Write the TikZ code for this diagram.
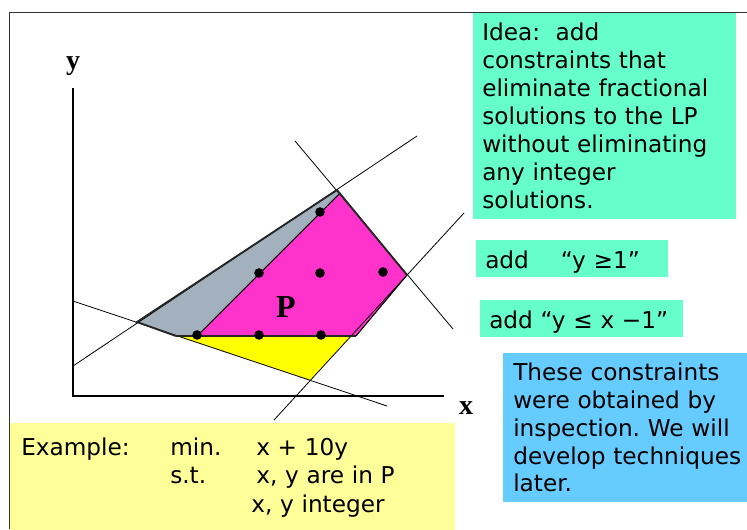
\documentclass[tikz,border=0pt]{standalone}
\usepackage{fontspec}
\setmainfont{DejaVu Sans}
\newfontfamily\axisfont{Liberation Serif}
\usetikzlibrary{calc,positioning}
\frenchspacing
\hyphenpenalty=10000
\exhyphenpenalty=10000

\definecolor{polyMagenta}{RGB}{255,51,204}
\definecolor{cutGray}{RGB}{163,177,191}
\definecolor{cutYellow}{RGB}{255,255,0}
\definecolor{ideaGreen}{RGB}{102,255,204}
\definecolor{noteBlue}{RGB}{102,204,255}
\definecolor{exampleYellow}{RGB}{255,255,153}

\begin{document}
\begin{tikzpicture}[
    x=0.75pt, y=-0.75pt,
    font=\fontsize{17.4pt}{21pt}\selectfont,
    note/.style={rectangle, anchor=north west, align=left, inner xsep=6.75pt, inner ysep=7.5pt},
    idea/.style={note, fill=ideaGreen, text width=183.75pt, minimum height=154.5pt},
    addbox/.style={note, fill=ideaGreen, inner ysep=3pt, text height=18.2pt, text depth=3.3pt},
    remark/.style={note, fill=noteBlue, inner xsep=7.5pt, text width=180pt,
        font=\fontsize{17.4pt}{20.8pt}\selectfont},
    example/.style={note, fill=exampleYellow, inner xsep=8.25pt, inner ysep=9pt, text width=317.25pt,
        font=\fontsize{17.4pt}{21.4pt}\selectfont},
    constraint/.style={line width=0.6pt},
    rim/.style={line width=1.4pt, black!85},
    axisline/.style={line width=1pt},
    latticept/.style={circle, fill=black, inner sep=0pt, minimum size=7.2pt},
    axislabel/.style={font=\axisfont\bfseries\fontsize{21pt}{21pt}\selectfont},
]
    \useasboundingbox (0,0) rectangle (747,529);

    % --- CORNERS OF THE REGIONS ---
    \coordinate (apex) at (337,190);
    \coordinate (leftcut) at (137,322);
    \coordinate (graybase) at (176,336);
    \coordinate (basecut) at (197,336);
    \coordinate (magtop) at (339,194);
    \coordinate (magright) at (407,275);
    \coordinate (magbase) at (356,336);
    \coordinate (yelright) at (351,336);
    \coordinate (yelbottom) at (310,380);

    % --- REGIONS ---
    \fill[cutGray] (apex) -- (leftcut) -- (graybase) -- (basecut) -- (magtop) -- cycle;
    \fill[polyMagenta] (basecut) -- (magtop) -- (magright) -- (magbase) -- cycle;
    \fill[cutYellow] (graybase) -- (yelright) -- (yelbottom) -- cycle;

    % --- CONSTRAINT LINES ---
    \coordinate (upperA) at (73,366);
    \coordinate (upperB) at (417,136);
    \coordinate (lowerA) at (73,301);
    \coordinate (lowerB) at (387,406);
    \coordinate (steepA) at (295,141);
    \coordinate (steepB) at (453,329);
    \coordinate (rightA) at (464,213);
    \coordinate (rightB) at (274,420);
    \draw[constraint] (upperA) -- (upperB);
    \draw[constraint] (lowerA) -- (lowerB);
    \draw[constraint] (steepA) -- (steepB);
    \draw[constraint] (rightA) -- (rightB);

    % --- EDGES OF THE REGIONS ---
    \draw[rim] (graybase) -- (leftcut) -- (apex) -- (magright);
    \draw[rim, line width=1.1pt] (graybase) -- (magbase);
    \draw[line width=0.8pt] (basecut) -- (magtop);
    \draw[line width=0.8pt] (magright) -- (magbase);

    % --- INTEGER POINTS ---
    \node[latticept] (p11) at (197,335) {};
    \node[latticept] (p21) at (259,335) {};
    \node[latticept] (p31) at (321,335) {};
    \node[latticept] (p22) at (259,273) {};
    \node[latticept] (p32) at (320,273) {};
    \node[latticept] (p42) at (383,272) {};
    \node[latticept] (p33) at (320,212) {};
    \node[axislabel, font=\axisfont\bfseries\fontsize{24pt}{24pt}\selectfont] (polyP) at (286,307) {P};

    % --- AXES ---
    \coordinate (origin) at (73,396);
    \coordinate (ytop) at (73,88);
    \coordinate (xend) at (444,396);
    \draw[axisline] (ytop) -- (origin) -- (xend);
    \node[axislabel] (ylabel) at (73,66) {y};
    \node[axislabel] (xlabel) at (466,408) {x};

    % --- TEXT BOXES ---
    \node[idea] (ideaBox) at (473,13) {Idea:~ add\\constraints that\\eliminate fractional\\solutions to the LP\\without eliminating\\any integer\\solutions.};
    \node[addbox, minimum width=144pt, text width=130.5pt] (addLow) at (476,240) {add\hspace{24pt}“y ≥1”};
    \node[addbox, minimum width=152.25pt, text width=138.75pt] (addDiag) at (480,300) {add “y ≤ x −1”};
    \node[remark, minimum height=111.75pt] (inspectBox) at (503,353) {These constraints\\were obtained by\\inspection. We will\\develop techniques\\later.};
    \node[example] (exampleBox) at (10,423) {%
        \begin{tabular}{@{}p{111.75pt}@{}p{64.5pt}@{}l@{}}
            Example: & min. & x + 10y\\
                     & s.t. & x, y are in P\\
                     &      & \hspace*{-3.75pt}x, y integer
        \end{tabular}};

    % --- FRAME ---
    \draw[line width=1pt, black!80] (747,12.5) -- (9.5,12.5) -- (9.5,529);
\end{tikzpicture}
\end{document}
